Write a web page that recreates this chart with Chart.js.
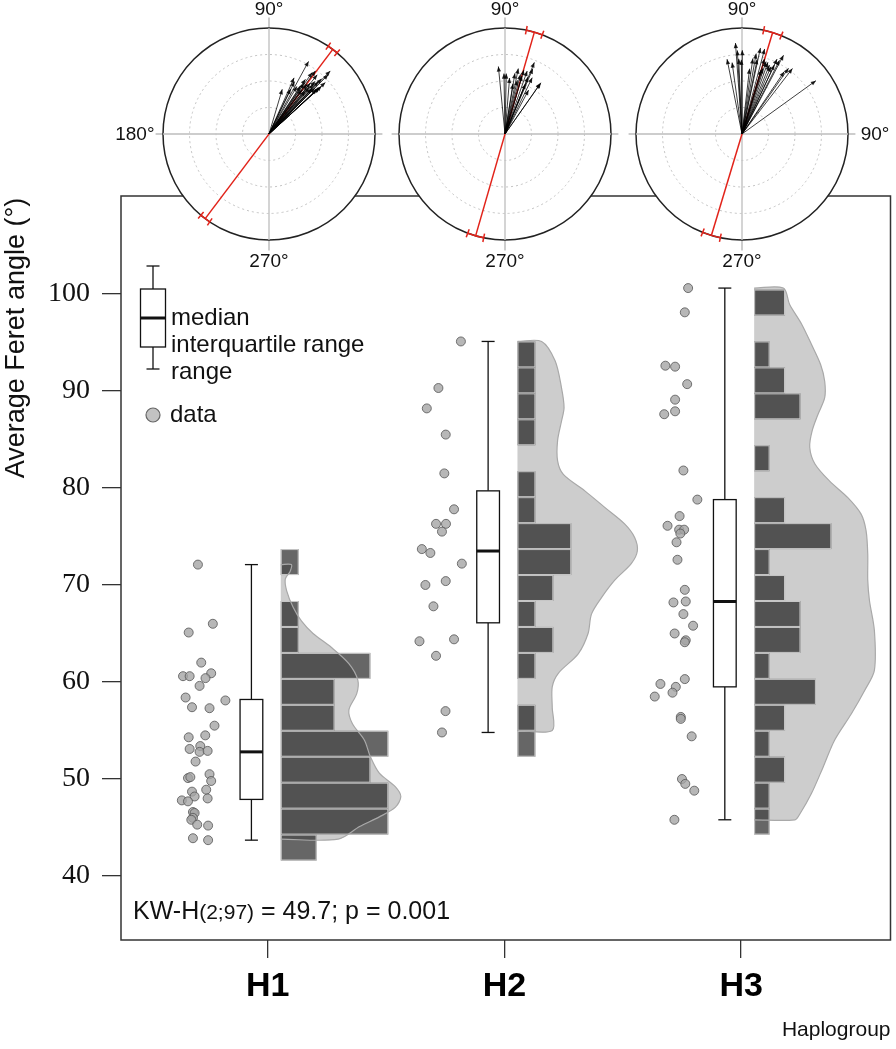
<!DOCTYPE html>
<html lang="en">
<head>
<meta charset="UTF-8" />
<title>Average Feret angle by haplogroup</title>
<script src="https://cdn.jsdelivr.net/npm/chart.js"></script>
<style>
  body { margin: 0; padding: 0; background: #fff; }
  #wrap { position: relative; width: 896px; height: 1049px; }
  #wrap canvas { position: absolute; top: 0; }
  #main { left: 0; }
</style>
</head>
<body>
<div id="wrap">
  <canvas id="main" width="896" height="1049"></canvas>
  <canvas id="rose1" width="340" height="270"></canvas>
  <canvas id="rose2" width="340" height="270"></canvas>
  <canvas id="rose3" width="340" height="270"></canvas>
</div>
<script>
const groups = ["H1", "H2", "H3"];
const yTicks = [40, 50, 60, 70, 80, 90, 100];

// observations (average Feret angle) and horizontal jitter of each dot
const h1Values = [72.1, 66.0, 65.1, 62.0, 60.6, 60.6, 60.9, 60.4, 59.6, 58.4, 58.1, 57.4, 57.3, 55.5, 54.3, 54.5, 53.1, 53.4, 52.8, 52.9,
  51.8, 50.5, 49.8, 50.1, 50.2, 48.7, 48.2, 48.9, 47.8, 47.7, 48.0, 46.6, 46.5, 46.0, 45.8, 45.3, 45.2, 43.9, 43.7];
const h1Jitter = [-0.295, -0.232, -0.334, -0.281, -0.358, -0.330, -0.239, -0.263, -0.288, -0.347, -0.179, -0.320, -0.246, -0.225, -0.334,
  -0.264, -0.330, -0.285, -0.288, -0.254, -0.305, -0.246, -0.239, -0.337, -0.327, -0.320, -0.309, -0.260, -0.363, -0.337, -0.254, -0.316,
  -0.309, -0.316, -0.323, -0.298, -0.252, -0.316, -0.252];
const h2Values = [95.1, 90.3, 88.2, 85.5, 81.5, 77.8, 76.3, 76.3, 75.5, 73.7, 73.3, 72.2, 70.4, 70.0, 67.8, 64.2, 64.4, 62.7, 57.0, 54.8];
const h2Jitter = [-0.184, -0.279, -0.328, -0.248, -0.254, -0.213, -0.289, -0.247, -0.264, -0.349, -0.313, -0.180, -0.248, -0.334, -0.300,
  -0.359, -0.213, -0.289, -0.249, -0.264];
const h3Values = [100.6, 98.1, 92.6, 92.5, 90.7, 89.1, 87.9, 87.6, 81.8, 78.8, 77.1, 76.1, 75.7, 75.7, 75.3, 74.4, 72.6, 69.5, 68.2, 68.3,
  67.0, 65.8, 65.0, 64.3, 64.1, 60.3, 59.8, 59.5, 58.5, 58.9, 56.4, 56.2, 54.4, 50.0, 49.5, 48.8, 45.8];
const h3Jitter = [-0.224, -0.238, -0.320, -0.279, -0.228, -0.279, -0.279, -0.325, -0.244, -0.185, -0.260, -0.311, -0.262, -0.241, -0.257,
  -0.273, -0.269, -0.238, -0.286, -0.234, -0.244, -0.203, -0.281, -0.234, -0.238, -0.238, -0.341, -0.276, -0.365, -0.290, -0.255, -0.255,
  -0.209, -0.250, -0.236, -0.198, -0.282];

// box plot summary
const boxMin = [43.7, 54.8, 45.8];
const boxQ1 = [47.9, 66.1, 59.5];
const boxMedian = [52.8, 73.5, 68.3];
const boxQ3 = [58.2, 79.7, 78.8];
const boxMax = [72.1, 95.1, 100.6];

// histograms, all on the same bins
const binStart = 41.6;
const binWidth = 2.675;
const h1Counts = [2, 6, 6, 5, 6, 3, 3, 5, 1, 1, 0, 1, 0, 0, 0, 0, 0, 0, 0, 0, 0, 0];
const h2Counts = [0, 0, 0, 0, 1, 1, 0, 1, 2, 1, 2, 3, 3, 1, 1, 0, 1, 1, 1, 1, 0, 0];
const h3Counts = [0, 1, 1, 2, 1, 2, 4, 1, 3, 3, 2, 1, 5, 2, 0, 1, 0, 3, 2, 1, 0, 2];

// density outline: [angle, height in histogram units]
const h1Density = [[72.1, 0.59], [71.4, 0.52], [70.6, 0.25], [69.4, 0.33], [67.7, 0.69], [66.3, 1.15], [65.0, 1.8], [63.6, 2.8],
  [61.9, 3.8], [60.2, 4.3], [58.8, 4.24], [57.1, 3.8], [55.7, 4.0], [54.0, 4.67], [52.3, 5.0], [50.6, 5.5], [49.2, 6.4], [48.2, 6.7],
  [47.1, 6.4], [46.1, 5.5], [45.1, 4.4], [43.8, 3.2]];
const h2Density = [[95.1, 1.35], [93.1, 2.1], [90.3, 2.46], [88.3, 2.6], [86.9, 2.46], [84.9, 2.24], [82.8, 2.24], [81.4, 2.56],
  [79.7, 3.76], [78.0, 4.87], [76.3, 5.98], [74.9, 6.54], [73.5, 6.69], [72.2, 6.35], [70.5, 5.43], [68.7, 4.69], [67.0, 4.13],
  [65.0, 3.94], [62.9, 3.39], [60.9, 2.28], [59.5, 1.94], [57.4, 1.94], [55.0, 1.94]];
const h3Density = [[100.6, 1.89], [98.9, 2.3], [96.9, 3.07], [94.8, 3.71], [92.7, 4.31], [91.0, 4.57], [89.3, 4.57], [87.6, 4.14],
  [85.9, 3.76], [84.2, 3.6], [82.5, 3.93], [80.7, 4.89], [79.0, 6.07], [77.3, 6.93], [75.6, 7.25], [73.2, 7.36], [70.5, 7.36],
  [68.4, 7.47], [65.3, 7.79], [61.2, 7.79], [59.1, 7.15], [56.7, 6.29], [54.0, 5.21], [51.2, 4.46], [48.5, 3.71], [46.4, 2.96], [45.8, 2.64]];

// rose diagrams: mean axis with its interval, and one arrow per cell (angle in degrees, length 0..1)
const meanAngle = [53.0, 73.9, 73.2];
const meanCI = [3.0, 4.5, 5.0];
const h1ArrowAngle = [61.4, 65.9, 64, 73.5, 56.3, 54.9, 53.6, 50.8, 45.8, 45, 42.2, 42.5, 46.8, 48, 46.7, 49.4, 49.8, 43, 56.8, 55.4,
  59.6, 64.3, 51, 48.8, 42.6, 45, 52.5, 53.5, 42.4, 46.4];
const h1ArrowLength = [0.78, 0.58, 0.55, 0.44, 0.62, 0.71, 0.74, 0.72, 0.83, 0.79, 0.67, 0.65, 0.68, 0.63, 0.59, 0.58, 0.53, 0.62, 0.54,
  0.58, 0.52, 0.47, 0.62, 0.66, 0.64, 0.61, 0.59, 0.52, 0.72, 0.72];
const h2ArrowAngle = [95.6, 91, 88.8, 85.3, 80.7, 78.5, 75.4, 73.6, 73.6, 70.6, 68, 67.7, 66.9, 64.2, 61.7, 54.9, 55, 77, 81, 67.8];
const h2ArrowLength = [0.64, 0.57, 0.57, 0.53, 0.58, 0.63, 0.58, 0.57, 0.63, 0.63, 0.58, 0.73, 0.67, 0.59, 0.47, 0.58, 0.59, 0.52, 0.48, 0.51];
const h3ArrowAngle = [94.1, 93.2, 89.8, 101.3, 97.9, 92.5, 90.5, 81.8, 80, 77.9, 75.1, 78.5, 71.6, 70.1, 64.9, 63, 62.2, 64.9, 55.9,
  54.7, 52.4, 66.7, 72.4, 73.4, 83.4, 35.8, 73.3, 68.3];
const h3ArrowLength = [0.86, 0.79, 0.79, 0.72, 0.68, 0.71, 0.70, 0.72, 0.77, 0.83, 0.83, 0.72, 0.72, 0.72, 0.78, 0.78, 0.84, 0.72, 0.71,
  0.76, 0.78, 0.69, 0.65, 0.63, 0.62, 0.86, 0.74, 0.70];
const roseSideLabel = ["180°", "", "90°"];

const statText = ["KW-H", "(2;97)", " = 49.7; p = 0.001"];

const values = [h1Values, h2Values, h3Values];
const jitter = [h1Jitter, h2Jitter, h3Jitter];
const counts = [h1Counts, h2Counts, h3Counts];
const density = [h1Density, h2Density, h3Density];
const arrowAngle = [h1ArrowAngle, h2ArrowAngle, h3ArrowAngle];
const arrowLength = [h1ArrowLength, h2ArrowLength, h3ArrowLength];

// layout in x-axis units (one haplogroup = 1)
const HIST_OFFSET = 0.055;
const HIST_UNIT = [0.0757, 0.0757, 0.0652];
const BOX_OFFSET = -0.069;
const BOX_HALF = 0.048;
const SANS = "'Liberation Sans', Arial, sans-serif";

function densityShape(g) {
  const x0 = g + 1 + HIST_OFFSET;
  const d = density[g];
  const pts = [{ x: x0, y: d[0][0] }];
  d.forEach(([y, w]) => pts.push({ x: x0 + w * HIST_UNIT[g], y: y }));
  pts.push({ x: x0, y: d[d.length - 1][0] });
  return pts;
}

function drawHistogram(ctx, xs, ys, g) {
  const x0 = xs.getPixelForValue(g + 1 + HIST_OFFSET);
  ctx.save();
  counts[g].forEach((n, k) => {
    if (!n) return;
    const yTop = ys.getPixelForValue(binStart + (k + 1) * binWidth);
    const yBot = ys.getPixelForValue(binStart + k * binWidth);
    const x1 = xs.getPixelForValue(g + 1 + HIST_OFFSET + n * HIST_UNIT[g]);
    ctx.fillStyle = "rgba(0,0,0,0.6)";
    ctx.fillRect(x0, yTop, x1 - x0, yBot - yTop);
    ctx.strokeStyle = "rgba(205,205,205,0.95)";
    ctx.lineWidth = 1;
    ctx.strokeRect(x0 + 0.5, yTop + 0.5, x1 - x0 - 1, yBot - yTop - 1);
  });
  ctx.restore();
}

function seg(ctx, x1, y1, x2, y2) {
  ctx.beginPath();
  ctx.moveTo(x1, y1);
  ctx.lineTo(x2, y2);
  ctx.stroke();
}

function drawBox(ctx, xs, ys, g) {
  const xc = xs.getPixelForValue(g + 1 + BOX_OFFSET);
  const xl = xs.getPixelForValue(g + 1 + BOX_OFFSET - BOX_HALF);
  const xr = xs.getPixelForValue(g + 1 + BOX_OFFSET + BOX_HALF);
  const cap = 6.5;
  const py = v => ys.getPixelForValue(v);
  ctx.save();
  ctx.strokeStyle = "#111";
  ctx.lineWidth = 1.3;
  seg(ctx, xc, py(boxMax[g]), xc, py(boxQ3[g]));
  seg(ctx, xc, py(boxQ1[g]), xc, py(boxMin[g]));
  seg(ctx, xc - cap, py(boxMax[g]), xc + cap, py(boxMax[g]));
  seg(ctx, xc - cap, py(boxMin[g]), xc + cap, py(boxMin[g]));
  ctx.fillStyle = "#fff";
  ctx.fillRect(xl, py(boxQ3[g]), xr - xl, py(boxQ1[g]) - py(boxQ3[g]));
  ctx.strokeRect(xl, py(boxQ3[g]), xr - xl, py(boxQ1[g]) - py(boxQ3[g]));
  ctx.lineWidth = 3;
  seg(ctx, xl, py(boxMedian[g]), xr, py(boxMedian[g]));
  ctx.restore();
}

function drawDecor(chart) {
  const ctx = chart.ctx;
  const a = chart.chartArea;
  ctx.save();
  // frame
  ctx.strokeStyle = "#333";
  ctx.lineWidth = 1.5;
  ctx.strokeRect(a.left, a.top, a.right - a.left, a.bottom - a.top);

  // legend for the box plot
  const lx = a.left + 32;
  ctx.strokeStyle = "#111";
  ctx.lineWidth = 1.3;
  seg(ctx, lx, a.top + 70, lx, a.top + 93);
  seg(ctx, lx, a.top + 151, lx, a.top + 173);
  seg(ctx, lx - 6.5, a.top + 70, lx + 6.5, a.top + 70);
  seg(ctx, lx - 6.5, a.top + 173, lx + 6.5, a.top + 173);
  ctx.strokeRect(lx - 12.5, a.top + 93, 25, 58);
  ctx.lineWidth = 3;
  seg(ctx, lx - 12.5, a.top + 122, lx + 12.5, a.top + 122);
  ctx.fillStyle = "#111";
  ctx.font = "24px " + SANS;
  ctx.textBaseline = "middle";
  ctx.textAlign = "left";
  ctx.fillText("median", lx + 18, a.top + 122);
  ctx.fillText("interquartile range", lx + 18, a.top + 149);
  ctx.fillText("range", lx + 18, a.top + 176);
  ctx.beginPath();
  ctx.arc(lx, a.top + 219, 7, 0, Math.PI * 2);
  ctx.fillStyle = "#c2c2c2";
  ctx.fill();
  ctx.lineWidth = 1.2;
  ctx.strokeStyle = "#666";
  ctx.stroke();
  ctx.fillStyle = "#111";
  ctx.fillText("data", lx + 17, a.top + 219);

  // test statistic
  let tx = a.left + 12;
  const ty = a.bottom - 28;
  ctx.font = "25px " + SANS;
  ctx.fillText(statText[0], tx, ty);
  tx += ctx.measureText(statText[0]).width;
  ctx.font = "21px " + SANS;
  ctx.fillText(statText[1], tx, ty + 1);
  tx += ctx.measureText(statText[1]).width;
  ctx.font = "25px " + SANS;
  ctx.fillText(statText[2], tx, ty);

  // y axis title
  ctx.translate(17, 338);
  ctx.rotate(-Math.PI / 2);
  ctx.textAlign = "center";
  ctx.font = "27px " + SANS;
  ctx.fillText("Average Feret angle (°)", 0, 0);
  ctx.restore();
}

const raincloud = {
  id: "raincloud",
  afterDatasetDraw(chart, args) {
    const ds = chart.data.datasets[args.index];
    const { x, y } = chart.scales;
    if (ds.role === "fill") drawHistogram(chart.ctx, x, y, ds.group);
    if (ds.role === "outline") drawBox(chart.ctx, x, y, ds.group);
  },
  afterDraw(chart) {
    drawDecor(chart);
  }
};

const datasets = [];
groups.forEach((g, i) => {
  datasets.push({
    label: g,
    type: "scatter",
    data: values[i].map((v, k) => ({ x: i + 1 + jitter[i][k], y: v })),
    pointRadius: 4.5,
    backgroundColor: "rgba(165,165,165,0.8)",
    borderColor: "rgba(85,85,85,0.8)",
    borderWidth: 1,
    order: 0
  });
  datasets.push({
    label: g + " density outline",
    type: "line",
    data: densityShape(i),
    showLine: true,
    fill: false,
    borderColor: "#a9a9a9",
    borderWidth: 1.2,
    pointRadius: 0,
    tension: 0.3,
    order: 4,
    role: "outline",
    group: i
  });
  datasets.push({
    label: g + " density",
    type: "line",
    data: densityShape(i),
    showLine: true,
    fill: "shape",
    backgroundColor: "#cdcdcd",
    borderColor: "rgba(0,0,0,0)",
    borderWidth: 0,
    pointRadius: 0,
    tension: 0.3,
    order: 8,
    role: "fill",
    group: i
  });
});

const mainChart = new Chart(document.getElementById("main"), {
  type: "scatter",
  data: { datasets: datasets },
  options: {
    responsive: false,
    animation: false,
    devicePixelRatio: 1,
    events: [],
    layout: { padding: { top: 196, right: 2, left: 0, bottom: 0 } },
    plugins: { legend: { display: false }, tooltip: { enabled: false } },
    scales: {
      x: {
        type: "linear",
        min: 0.38,
        max: 3.631,
        afterBuildTicks: ax => { ax.ticks = groups.map((_, i) => ({ value: i + 1 })); },
        afterFit: ax => { ax.height = 109; },
        ticks: {
          callback: v => groups[Math.round(v) - 1],
          font: { family: SANS, size: 34, weight: "bold" },
          color: "#000",
          padding: 8,
          maxRotation: 0,
          autoSkip: false
        },
        grid: { drawOnChartArea: false, tickLength: 18, color: "#333", lineWidth: 1.3 },
        border: { display: false },
        title: {
          display: true,
          text: "Haplogroup",
          align: "end",
          color: "#111",
          font: { family: SANS, size: 21 },
          padding: { top: 0, bottom: 6 }
        }
      },
      y: {
        type: "linear",
        min: 33.41,
        max: 110.09,
        afterBuildTicks: ax => { ax.ticks = yTicks.map(v => ({ value: v })); },
        afterFit: ax => { ax.width = 121; },
        ticks: { font: { family: "'Liberation Serif', 'Times New Roman', serif", size: 28 }, color: "#111", padding: 12 },
        grid: { drawOnChartArea: false, tickLength: 19, color: "#333", lineWidth: 1.3 },
        border: { display: false }
      }
    }
  },
  plugins: [raincloud]
});

// rose diagrams above each haplogroup
const rose = {
  id: "rose",
  beforeDatasetsDraw(chart) {
    const g = chart.options.plugins.rose.group;
    const ctx = chart.ctx;
    const xs = chart.scales.x;
    const ys = chart.scales.y;
    const px = v => xs.getPixelForValue(v);
    const py = v => ys.getPixelForValue(v);
    const cx = px(0), cy = py(0);
    const r = px(1) - cx;
    ctx.save();
    // axes
    ctx.strokeStyle = "#bdbdbd";
    ctx.lineWidth = 1.5;
    seg(ctx, px(-1.07), cy, px(1.07), cy);
    seg(ctx, cx, py(1.1), cx, py(-1.1));
    // circle
    ctx.beginPath();
    ctx.arc(cx, cy, r, 0, Math.PI * 2);
    ctx.fillStyle = "#fff";
    ctx.fill();
    ctx.strokeStyle = "#222";
    ctx.lineWidth = 1.5;
    ctx.stroke();
    ctx.strokeStyle = "#bdbdbd";
    ctx.lineWidth = 1.3;
    seg(ctx, px(-1), cy, px(1), cy);
    seg(ctx, cx, py(1), cx, py(-1));
    // rings
    ctx.setLineDash([2, 3]);
    ctx.strokeStyle = "#c4c4c4";
    ctx.lineWidth = 1;
    [0.25, 0.5, 0.75].forEach(f => {
      ctx.beginPath();
      ctx.arc(cx, cy, r * f, 0, Math.PI * 2);
      ctx.stroke();
    });
    ctx.setLineDash([]);
    // labels
    ctx.fillStyle = "#111";
    ctx.font = "19px " + SANS;
    ctx.textAlign = "center";
    ctx.textBaseline = "middle";
    ctx.fillText("90°", cx, py(1.17));
    ctx.fillText("270°", cx, py(-1.21));
    if (roseSideLabel[g]) {
      ctx.textAlign = g === 0 ? "right" : "left";
      ctx.fillText(roseSideLabel[g], g === 0 ? px(-1.08) : px(1.12), cy + 1);
    }
    // mean axis
    const m = meanAngle[g] * Math.PI / 180;
    const c = Math.cos(m), s = Math.sin(m);
    ctx.strokeStyle = "#e2231a";
    ctx.lineWidth = 1.5;
    seg(ctx, px(-c), py(-s), px(c), py(s));
    [m, m + Math.PI].forEach(t => {
      const d = meanCI[g] * Math.PI / 180;
      ctx.beginPath();
      ctx.arc(cx, cy, r, -(t + d), -(t - d));
      ctx.stroke();
      [t - d, t + d].forEach(e => {
        seg(ctx, px(0.96 * Math.cos(e)), py(0.96 * Math.sin(e)), px(1.04 * Math.cos(e)), py(1.04 * Math.sin(e)));
      });
    });
    // arrows
    ctx.strokeStyle = "rgba(0,0,0,0.75)";
    ctx.fillStyle = "rgba(0,0,0,0.85)";
    ctx.lineWidth = 1;
    arrowAngle[g].forEach((deg, k) => {
      const t = deg * Math.PI / 180;
      const L = arrowLength[g][k];
      const ex = px(L * Math.cos(t)), ey = py(L * Math.sin(t));
      seg(ctx, cx, cy, ex, ey);
      const ang = Math.atan2(ey - cy, ex - cx);
      ctx.beginPath();
      ctx.moveTo(ex, ey);
      ctx.lineTo(ex - 5.5 * Math.cos(ang - 0.4), ey - 5.5 * Math.sin(ang - 0.4));
      ctx.lineTo(ex - 5.5 * Math.cos(ang + 0.4), ey - 5.5 * Math.sin(ang + 0.4));
      ctx.closePath();
      ctx.fill();
    });
    ctx.restore();
  }
};

groups.forEach((name, g) => {
  const canvas = document.getElementById("rose" + (g + 1));
  const cxMain = mainChart.scales.x.getPixelForValue(g + 1);
  canvas.style.left = (cxMain + 1 - 170) + "px";
  new Chart(canvas, {
    type: "scatter",
    data: {
      datasets: [{
        label: name + " cells",
        data: arrowAngle[g].map((deg, k) => ({
          x: arrowLength[g][k] * Math.cos(deg * Math.PI / 180),
          y: arrowLength[g][k] * Math.sin(deg * Math.PI / 180)
        })),
        pointRadius: 0
      }]
    },
    options: {
      responsive: false,
      animation: false,
      devicePixelRatio: 1,
      events: [],
      layout: { padding: 0 },
      plugins: { legend: { display: false }, tooltip: { enabled: false }, rose: { group: g } },
      scales: {
        x: { type: "linear", display: false, min: -1.604, max: 1.604 },
        y: { type: "linear", display: false, min: -1.283, max: 1.264 }
      }
    },
    plugins: [rose]
  });
});
</script>
</body>
</html>
